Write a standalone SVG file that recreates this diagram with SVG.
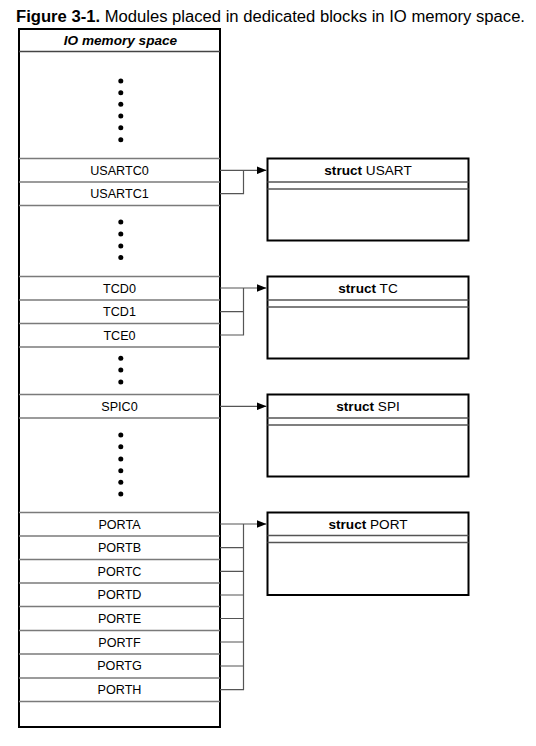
<svg xmlns="http://www.w3.org/2000/svg" width="536" height="746" viewBox="0 0 536 746">
<style>
text{font-family:"Liberation Sans",Arial,Helvetica,sans-serif;fill:#000}
.lbl{font-size:12.6px;text-anchor:middle}
.hdr{font-size:13.6px;text-anchor:middle}
.div{stroke:#7a7a7a;stroke-width:1.4;fill:none}
.box{fill:#fff;stroke:#000;stroke-width:2}
.in{stroke:#555;stroke-width:1.6;fill:none}
.con{stroke:#555;stroke-width:1.2;fill:none}
.dot{fill:#000}
</style>
<defs>
<marker id="ah" markerWidth="10" markerHeight="8" refX="10" refY="4" orient="auto" markerUnits="userSpaceOnUse">
<path d="M0,0 L10,4 L0,8 z" fill="#000"/>
</marker>
</defs>
<rect width="536" height="746" fill="#fff"/>
<text x="16" y="21.5" style="font-size:16px" textLength="509" lengthAdjust="spacingAndGlyphs"><tspan font-weight="bold">Figure 3-1.</tspan> Modules placed in dedicated blocks in IO memory space.</text>

<g id="memory">
<rect class="box" x="19" y="29" width="201" height="698"/>
<line class="in" x1="19" y1="51.5" x2="220" y2="51.5" style="stroke:#444"/>
<text class="hdr" x="120.5" y="45" font-weight="bold" font-style="italic">IO memory space</text>
<g class="div">
<line x1="19" y1="158.5" x2="220" y2="158.5"/>
<line x1="19" y1="182" x2="220" y2="182"/>
<line x1="19" y1="205.5" x2="220" y2="205.5"/>
<line x1="19" y1="276.5" x2="220" y2="276.5"/>
<line x1="19" y1="300" x2="220" y2="300"/>
<line x1="19" y1="323.5" x2="220" y2="323.5"/>
<line x1="19" y1="347" x2="220" y2="347"/>
<line x1="19" y1="394.5" x2="220" y2="394.5"/>
<line x1="19" y1="418" x2="220" y2="418"/>
<line x1="19" y1="512.5" x2="220" y2="512.5"/>
<line x1="19" y1="536" x2="220" y2="536"/>
<line x1="19" y1="559.5" x2="220" y2="559.5"/>
<line x1="19" y1="583" x2="220" y2="583"/>
<line x1="19" y1="606.5" x2="220" y2="606.5"/>
<line x1="19" y1="630.5" x2="220" y2="630.5"/>
<line x1="19" y1="654" x2="220" y2="654"/>
<line x1="19" y1="678" x2="220" y2="678"/>
<line x1="19" y1="701.5" x2="220" y2="701.5"/>
</g>
<g class="dot">
<circle cx="120.8" cy="81" r="2.5"/><circle cx="120.8" cy="92.7" r="2.5"/><circle cx="120.8" cy="104.3" r="2.5"/><circle cx="120.8" cy="116" r="2.5"/><circle cx="120.8" cy="127.7" r="2.5"/><circle cx="120.8" cy="139.7" r="2.5"/>
<circle cx="120.8" cy="222" r="2.5"/><circle cx="120.8" cy="234" r="2.5"/><circle cx="120.8" cy="246" r="2.5"/><circle cx="120.8" cy="257.5" r="2.5"/>
<circle cx="120.8" cy="358.3" r="2.5"/><circle cx="120.8" cy="370" r="2.5"/><circle cx="120.8" cy="382" r="2.5"/>
<circle cx="120.8" cy="435" r="2.5"/><circle cx="120.8" cy="446.7" r="2.5"/><circle cx="120.8" cy="459" r="2.5"/><circle cx="120.8" cy="470.7" r="2.5"/><circle cx="120.8" cy="482.3" r="2.5"/><circle cx="120.8" cy="494" r="2.5"/>
</g>
</g>

<g id="n-usartc0"><text class="lbl" x="119.5" y="174.8">USARTC0</text></g>
<g id="n-usartc1"><text class="lbl" x="119.5" y="198.2">USARTC1</text></g>
<g id="n-tcd0"><text class="lbl" x="119.5" y="292.8">TCD0</text></g>
<g id="n-tcd1"><text class="lbl" x="119.5" y="316.2">TCD1</text></g>
<g id="n-tce0"><text class="lbl" x="119.5" y="339.8">TCE0</text></g>
<g id="n-spic0"><text class="lbl" x="119.5" y="410.8">SPIC0</text></g>
<g id="n-porta"><text class="lbl" x="119.5" y="528.8">PORTA</text></g>
<g id="n-portb"><text class="lbl" x="119.5" y="552.2">PORTB</text></g>
<g id="n-portc"><text class="lbl" x="119.5" y="575.8">PORTC</text></g>
<g id="n-portd"><text class="lbl" x="119.5" y="599.2">PORTD</text></g>
<g id="n-porte"><text class="lbl" x="119.5" y="623">PORTE</text></g>
<g id="n-portf"><text class="lbl" x="119.5" y="646.8">PORTF</text></g>
<g id="n-portg"><text class="lbl" x="119.5" y="670.2">PORTG</text></g>
<g id="n-porth"><text class="lbl" x="119.5" y="694.2">PORTH</text></g>

<g id="s-usart">
<rect class="box" x="267.5" y="158.5" width="201" height="82"/>
<line class="in" x1="267.5" y1="182" x2="468.5" y2="182"/>
<line class="in" x1="267.5" y1="189" x2="468.5" y2="189"/>
<text class="hdr" x="368" y="175"><tspan font-weight="bold">struct</tspan> USART</text>
</g>
<g id="s-tc">
<rect class="box" x="267.5" y="276.5" width="201" height="82"/>
<line class="in" x1="267.5" y1="300" x2="468.5" y2="300"/>
<line class="in" x1="267.5" y1="307" x2="468.5" y2="307"/>
<text class="hdr" x="368" y="293"><tspan font-weight="bold">struct</tspan> TC</text>
</g>
<g id="s-spi">
<rect class="box" x="267.5" y="394.5" width="201" height="82"/>
<line class="in" x1="267.5" y1="418" x2="468.5" y2="418"/>
<line class="in" x1="267.5" y1="425" x2="468.5" y2="425"/>
<text class="hdr" x="368" y="411"><tspan font-weight="bold">struct</tspan> SPI</text>
</g>
<g id="s-port">
<rect class="box" x="267.5" y="512.5" width="201" height="82.5"/>
<line class="in" x1="267.5" y1="535.5" x2="468.5" y2="535.5"/>
<line class="in" x1="267.5" y1="542.5" x2="468.5" y2="542.5"/>
<text class="hdr" x="368" y="529"><tspan font-weight="bold">struct</tspan> PORT</text>
</g>

<g id="connectors" class="con">
<line x1="220" y1="170.3" x2="266.5" y2="170.3" marker-end="url(#ah)"/>
<path d="M220,193.7 H243.5 V170.3"/>
<line x1="220" y1="288" x2="266.5" y2="288" marker-end="url(#ah)"/>
<path d="M220,311.7 H243.5 M220,335 H243.5 V288"/>
<line x1="220" y1="406.3" x2="266.5" y2="406.3" marker-end="url(#ah)"/>
<line x1="220" y1="524" x2="266.5" y2="524" marker-end="url(#ah)"/>
<path d="M220,547.7 H243.5 M220,571.3 H243.5 M220,595 H243.5 M220,618.5 H243.5 M220,642 H243.5 M220,666 H243.5 M220,689.7 H243.5 V524"/>
</g>
</svg>
